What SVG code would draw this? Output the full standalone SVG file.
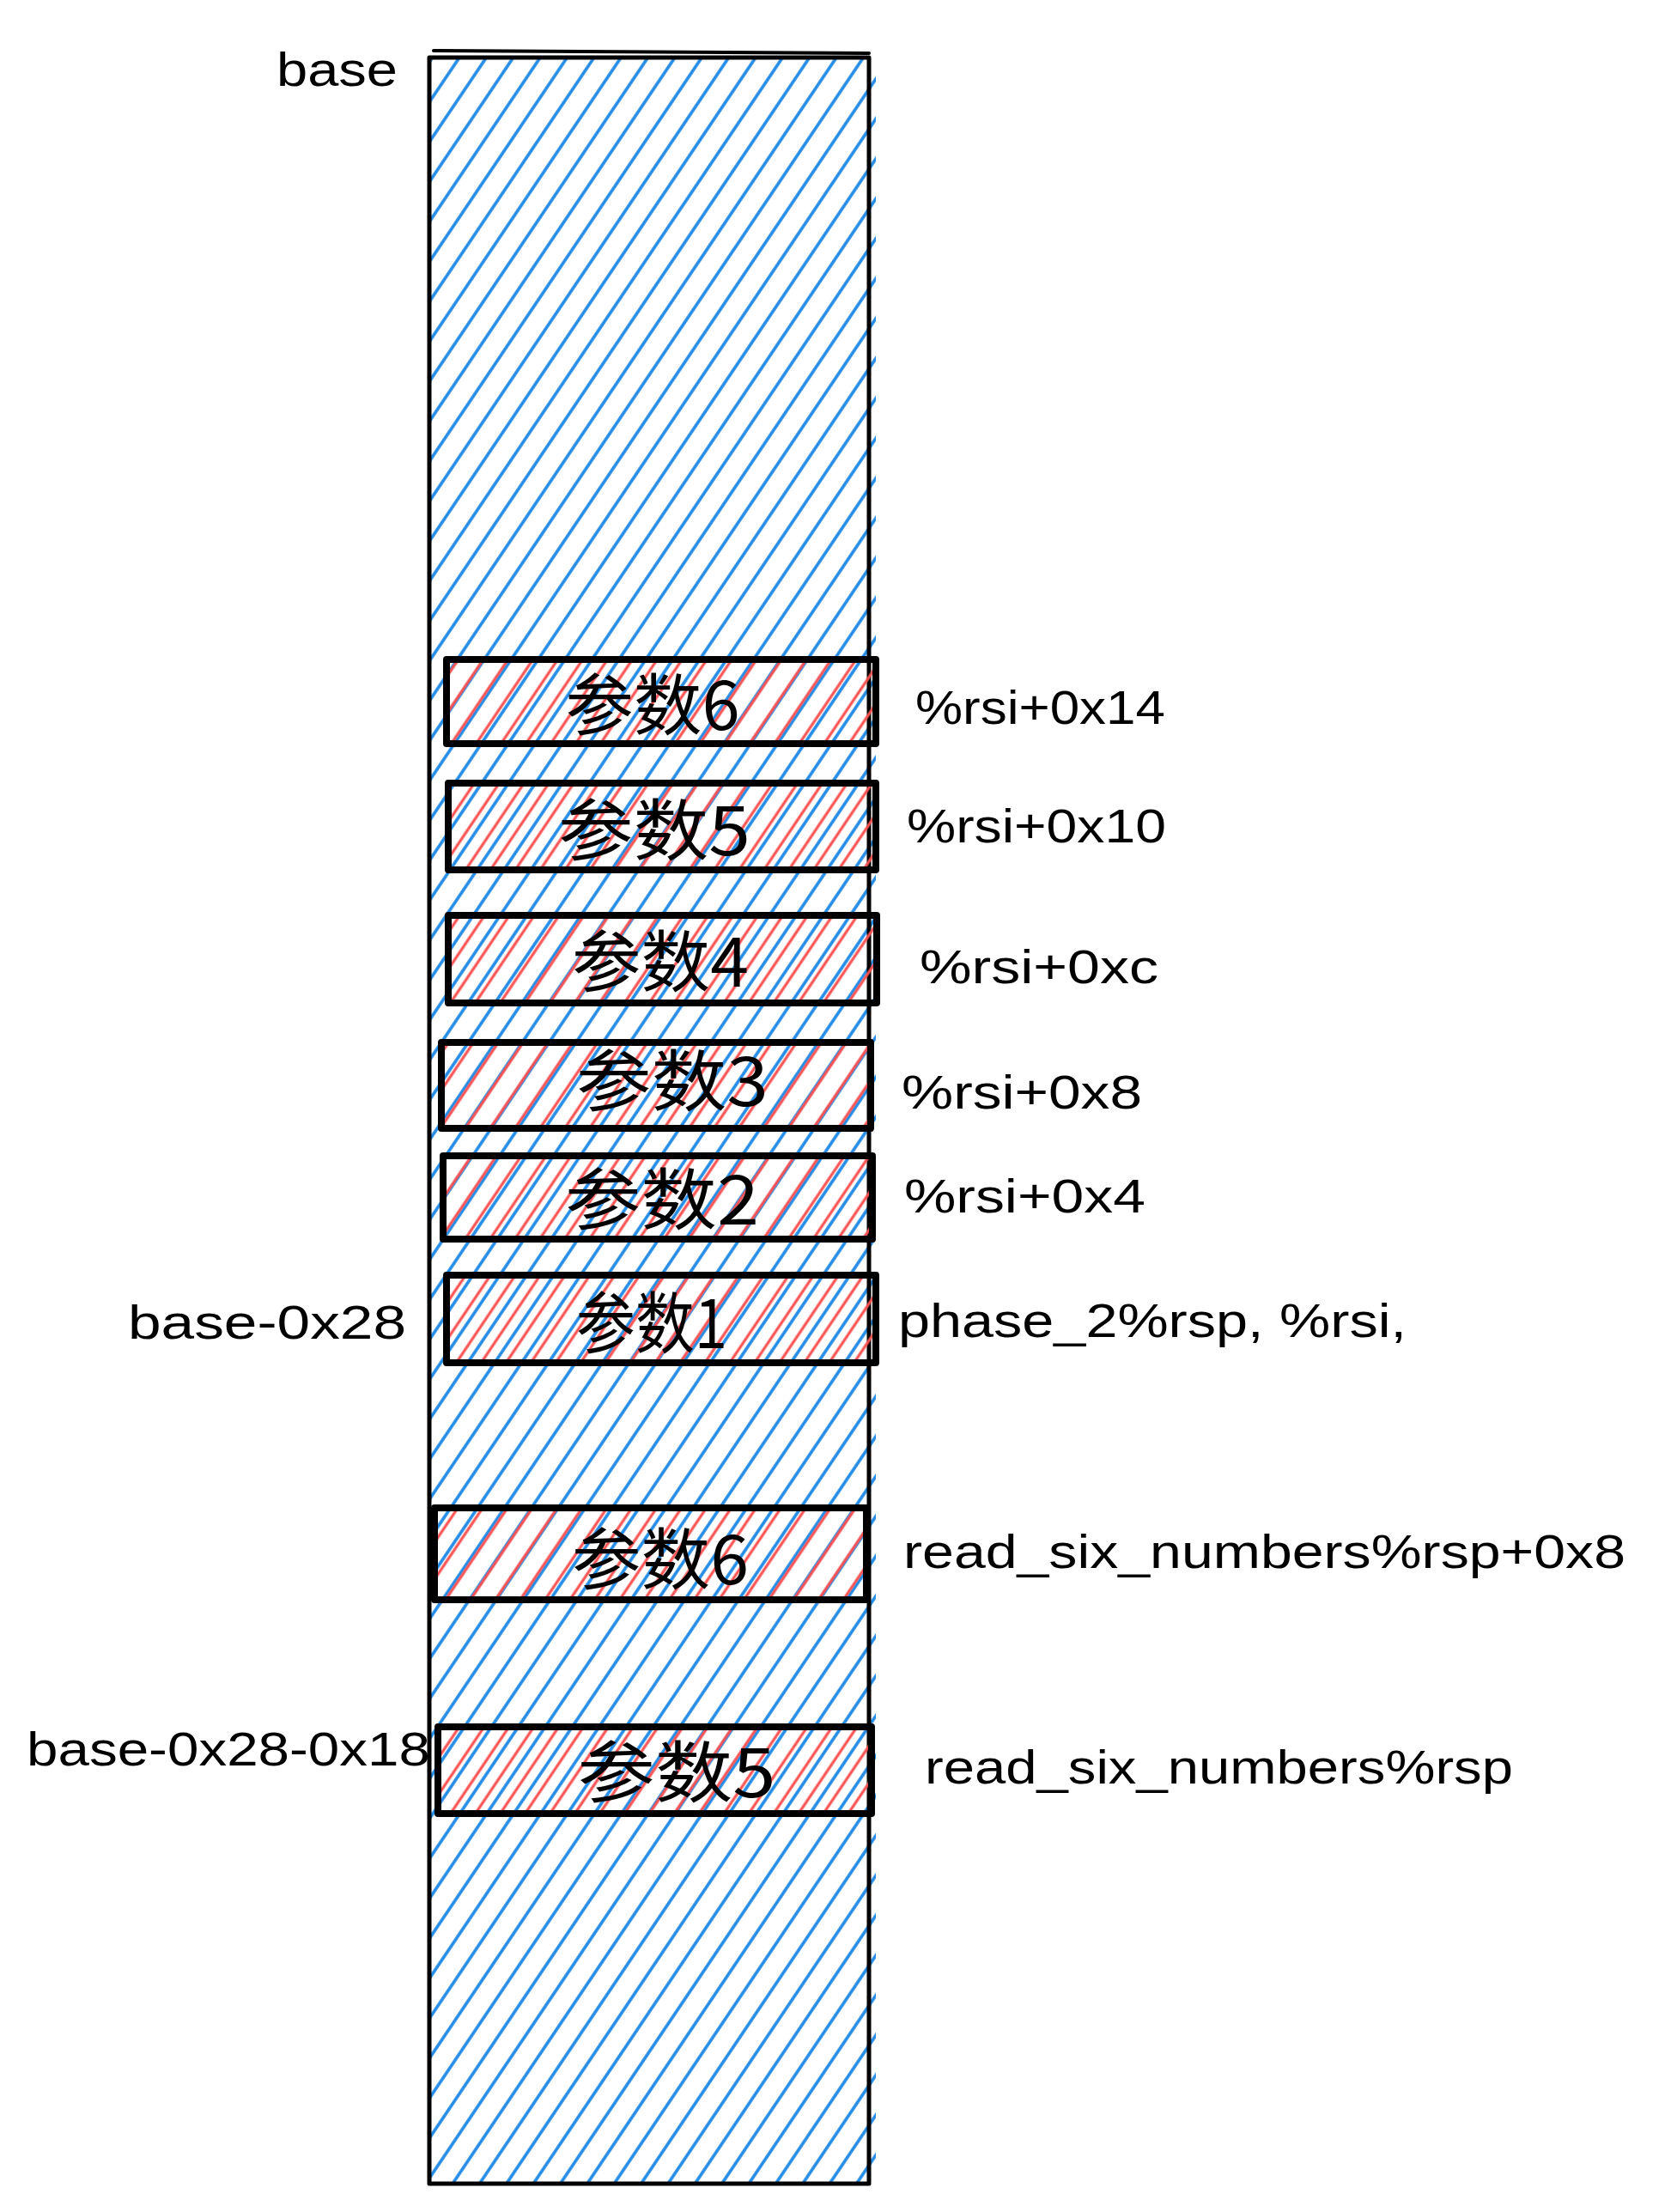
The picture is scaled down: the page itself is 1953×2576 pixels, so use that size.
<svg xmlns="http://www.w3.org/2000/svg" width="1953" height="2576" viewBox="0 0 1953 2576">
  <defs>
    <pattern id="hatchBlue" patternUnits="userSpaceOnUse" width="26" height="40" patternTransform="rotate(34)">
      <line x1="13" y1="-5" x2="13" y2="45" stroke="#228be6" stroke-width="3.6"/>
    </pattern>
    <pattern id="hatchRed" patternUnits="userSpaceOnUse" width="24" height="40" patternTransform="rotate(34) translate(5 0)">
      <line x1="3" y1="-5" x2="3" y2="45" stroke="#fa5252" stroke-width="3.2"/>
    </pattern>
    <style>
      .frame { fill: none; stroke: #000; stroke-width: 5; stroke-linejoin: round; }
      .box { fill: url(#hatchRed); stroke: #000; stroke-width: 8; stroke-linejoin: round; }
      .sketch { fill: none; stroke: #000; stroke-width: 4; stroke-linecap: round; }
      .lbl { font-family: "Noto Sans CJK SC", "Noto Sans", sans-serif; font-size: 78px; fill: #000; text-anchor: middle; }
      .note { font-family: "Liberation Sans", "DejaVu Sans", sans-serif; font-size: 56px; fill: #000; }
    </style>
  </defs>
  <rect width="1953" height="2576" fill="#fff"/>

  <g id="stack">
    <rect x="500" y="67" width="520" height="2476" fill="url(#hatchBlue)"/>
    <rect class="frame" x="500" y="67" width="512" height="2476"/>
    <path class="sketch" d="M505 59 L1012 62"/>
  </g>

  <g id="arg6a">
    <rect class="box" x="520" y="768" width="500" height="98"/>
    <text class="lbl" x="760" y="850" textLength="203" lengthAdjust="spacingAndGlyphs">参数6</text>
  </g>
  <g id="arg5a">
    <rect class="box" x="522" y="912" width="498" height="101"/>
    <text class="lbl" x="762" y="996" textLength="224" lengthAdjust="spacingAndGlyphs">参数5</text>
  </g>
  <g id="arg4">
    <rect class="box" x="522" y="1066" width="499" height="102"/>
    <text class="lbl" x="769" y="1149" textLength="206" lengthAdjust="spacingAndGlyphs">参数4</text>
  </g>
  <g id="arg3">
    <rect class="box" x="514" y="1214" width="500" height="100"/>
    <text class="lbl" x="783" y="1288" textLength="224" lengthAdjust="spacingAndGlyphs">参数3</text>
  </g>
  <g id="arg2">
    <rect class="box" x="516" y="1346" width="500" height="97"/>
    <text class="lbl" x="771" y="1426" textLength="226" lengthAdjust="spacingAndGlyphs">参数2</text>
  </g>
  <g id="arg1">
    <rect class="box" x="520" y="1485" width="500" height="102"/>
    <text class="lbl" x="759" y="1570" textLength="176" lengthAdjust="spacingAndGlyphs">参数1</text>
  </g>
  <g id="arg6b">
    <rect class="box" x="506" y="1756" width="503" height="107"/>
    <text class="lbl" x="769" y="1845" textLength="206" lengthAdjust="spacingAndGlyphs">参数6</text>
  </g>
  <g id="arg5b">
    <rect class="box" x="510" y="2011" width="505" height="101"/>
    <text class="lbl" x="788" y="2093" textLength="231" lengthAdjust="spacingAndGlyphs">参数5</text>
  </g>

  <g id="labels">
    <text class="note" x="322" y="100" textLength="141" lengthAdjust="spacingAndGlyphs">base</text>
    <text class="note" x="1066" y="843" textLength="291" lengthAdjust="spacingAndGlyphs">%rsi+0x14</text>
    <text class="note" x="1056" y="981" textLength="302" lengthAdjust="spacingAndGlyphs">%rsi+0x10</text>
    <text class="note" x="1071" y="1145" textLength="278" lengthAdjust="spacingAndGlyphs">%rsi+0xc</text>
    <text class="note" x="1050" y="1291" textLength="280" lengthAdjust="spacingAndGlyphs">%rsi+0x8</text>
    <text class="note" x="1053" y="1412" textLength="281" lengthAdjust="spacingAndGlyphs">%rsi+0x4</text>
    <text class="note" x="1046" y="1557" textLength="592" lengthAdjust="spacingAndGlyphs">phase_2%rsp, %rsi,</text>
    <text class="note" x="149" y="1559" textLength="324" lengthAdjust="spacingAndGlyphs">base-0x28</text>
    <text class="note" x="1052" y="1826" textLength="841" lengthAdjust="spacingAndGlyphs">read_six_numbers%rsp+0x8</text>
    <text class="note" x="31" y="2056" textLength="470" lengthAdjust="spacingAndGlyphs">base-0x28-0x18</text>
    <text class="note" x="1077" y="2077" textLength="685" lengthAdjust="spacingAndGlyphs">read_six_numbers%rsp</text>
  </g>
</svg>
